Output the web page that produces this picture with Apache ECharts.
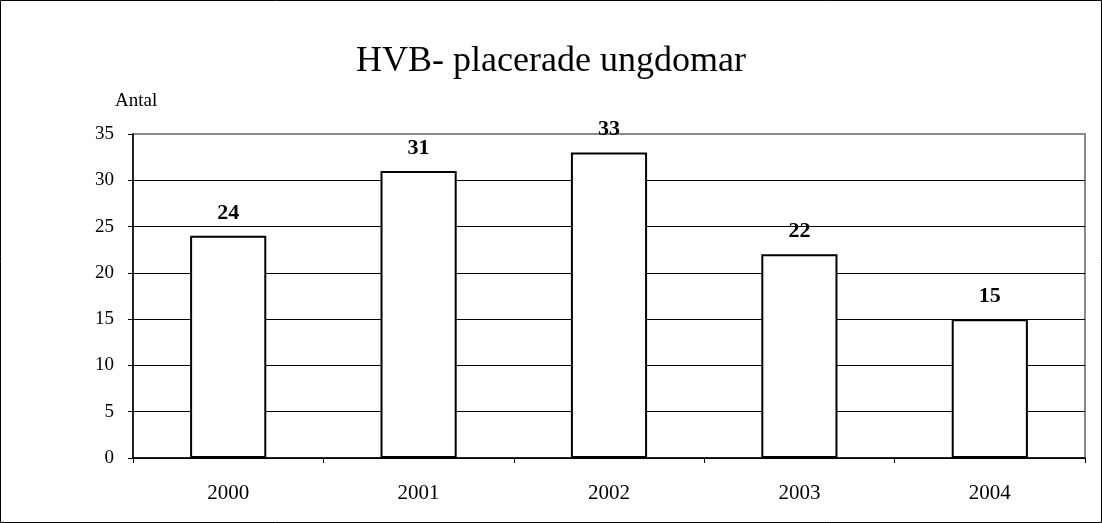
<!DOCTYPE html>
<html lang="sv">
<head>
    <meta charset="UTF-8">
    <title>HVB- placerade ungdomar</title>
    <script src="https://cdn.jsdelivr.net/npm/echarts@6/dist/echarts.min.js"></script>
    <style>
        html, body { margin: 0; padding: 0; background: #fff; }
    </style>
</head>
<body>
    <div id="main" style="width:1102px;height:523px;"></div>
    <script>
        var years = ['2000', '2001', '2002', '2003', '2004'];
        var antal = [24, 31, 33, 22, 15];
        var yTicks = [0, 5, 10, 15, 20, 25, 30, 35];

        var chart = echarts.init(document.getElementById('main'));
        var serif = '"Liberation Serif", "Times New Roman", serif';

        chart.setOption({
            animation: false,
            title: {
                text: 'HVB- placerade ungdomar',
                left: 'center',
                top: 39,
                textStyle: { fontFamily: serif, fontSize: 36, fontWeight: 'normal', color: '#000' }
            },
            graphic: [
                { type: 'rect', shape: { x: 0.5, y: 0.5, width: 1101, height: 522 },
                  style: { fill: 'none', stroke: '#000', lineWidth: 1 }, silent: true },
                { type: 'text', left: 115, top: 92,
                  style: { text: 'Antal', font: '19px ' + serif, fill: '#000' } }
            ],
            grid: {
                left: 133, right: 17, top: 134, bottom: 65,
                show: true, borderColor: '#888', borderWidth: 2, backgroundColor: '#fff'
            },
            xAxis: {
                type: 'category',
                data: years,
                axisLine: { lineStyle: { color: '#000', width: 1.5 } },
                axisTick: { show: true, length: 5, alignWithLabel: false, lineStyle: { color: '#000' } },
                axisLabel: { margin: 25, fontFamily: serif, fontSize: 21, color: '#000' }
            },
            yAxis: {
                type: 'value',
                min: yTicks[0],
                max: yTicks[yTicks.length - 1],
                interval: 5,
                axisLine: { show: true, lineStyle: { color: '#000', width: 1.5 } },
                axisTick: { show: true, length: 5, lineStyle: { color: '#000' } },
                axisLabel: { margin: 19, fontFamily: serif, fontSize: 19, color: '#000' },
                splitLine: { lineStyle: { color: ['#000', '#000', '#000', '#000', '#000', '#000', '#000', '#888'], width: 1 } }
            },
            series: [{
                type: 'bar',
                data: antal,
                barCategoryGap: '60%',
                itemStyle: { color: '#fff', borderColor: '#000', borderWidth: 2 },
                label: {
                    show: true, position: 'top', distance: 12,
                    fontFamily: serif, fontSize: 22, fontWeight: 'bold', color: '#000'
                }
            }]
        });
    </script>
</body>
</html>
